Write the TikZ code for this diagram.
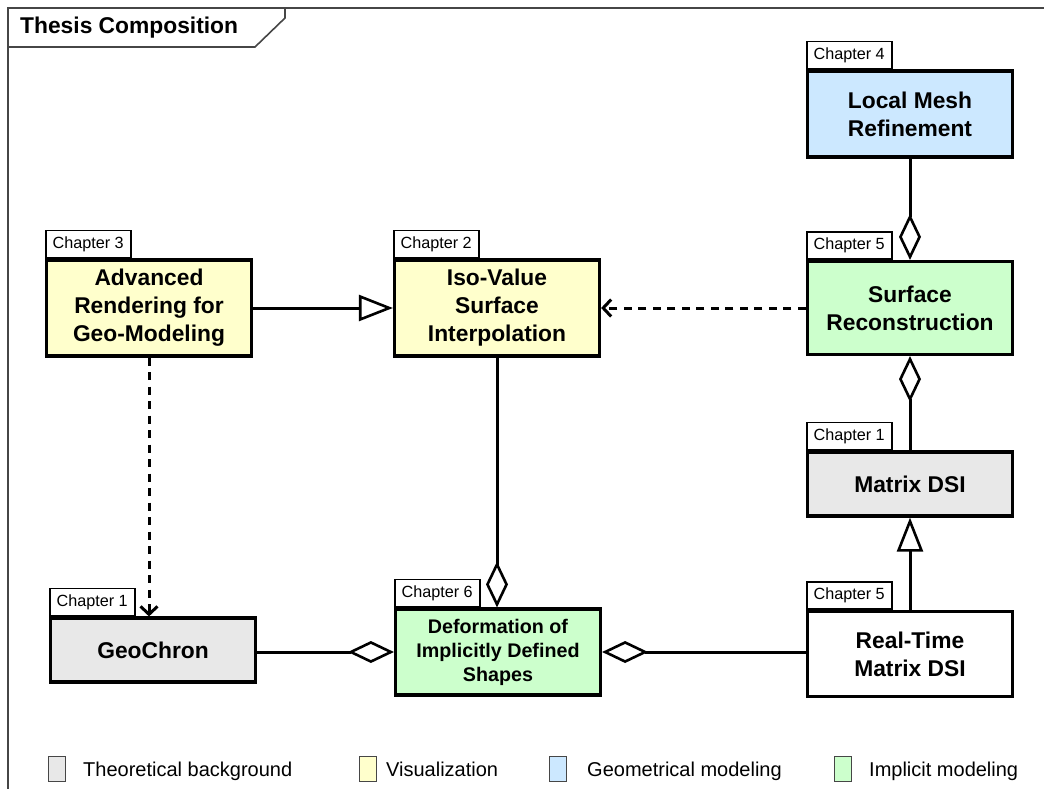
\documentclass[tikz,border=0pt]{standalone}
\usepackage{fontspec}
\setmainfont{Liberation Sans}
\usetikzlibrary{arrows.meta}
\definecolor{cgray}{RGB}{232,232,232}
\definecolor{cyel}{RGB}{255,255,204}
\definecolor{cblue}{RGB}{204,232,255}
\definecolor{cgreen}{RGB}{204,255,204}
\definecolor{frame}{RGB}{70,70,70}
\begin{document}
\begin{tikzpicture}[x=1pt,y=-1pt,
  box/.style={draw, line width=3.2pt, minimum width=205pt, inner sep=0pt, align=center,
    font=\fontsize{22.8}{28}\selectfont\bfseries},
  tabbox/.style={draw, line width=1.6pt, fill=white, minimum width=85pt, minimum height=27pt,
    inner sep=0pt, anchor=south west, font=\fontsize{16.2}{18}\selectfont},
  conn/.style={line width=3pt},
  gen/.style={conn, -{Triangle[open, length=34pt, width=26pt, line width=2.6pt]}},
  agg/.style={conn, -{Diamond[open, length=46pt, width=22pt, line width=2.6pt]}},
  dep/.style={conn, dash pattern=on 8pt off 6.5pt, -{Straight Barb[length=8pt, width=17pt, line width=3pt]}},
  legsq/.style={draw=frame, line width=1.6pt, minimum width=17pt, minimum height=25pt, inner sep=0pt},
  legtxt/.style={anchor=base west, inner sep=0pt, font=\fontsize{20}{24}\selectfont}
]
\useasboundingbox (0,0) rectangle (1044,789);
\fill[white] (0,0) rectangle (1044,789);

% frame
\draw[frame, line width=1.6pt] (1044,8) -- (8,8) -- (8,789);
\draw[frame, line width=1.6pt] (285,8) -- (285,18) -- (255,47) -- (8,47);
\node[anchor=west, inner sep=0pt, font=\fontsize{22.8}{28}\selectfont\bfseries] (title) at (20,28) {Thesis Composition};

% boxes
\node[box, fill=cblue, minimum height=86pt] (lmr) at (910,114) {Local Mesh\\Refinement};
\node[box, fill=cgreen, minimum height=93pt] (src) at (910,308) {Surface\\Reconstruction};
\node[box, fill=cyel, minimum height=96pt] (iso) at (497,308) {Iso-Value\\Surface\\Interpolation};
\node[box, fill=cyel, minimum height=96pt] (adv) at (149,308) {Advanced\\Rendering for\\Geo-Modeling};
\node[box, fill=cgray, minimum height=64pt] (mdsi) at (910,484) {Matrix DSI};
\node[box, fill=cgray, minimum height=64pt] (geo) at (153,650) {GeoChron};
\node[box, fill=cgreen, minimum height=86pt, font=\fontsize{19.7}{24}\selectfont\bfseries] (def) at (498,652) {Deformation of\\Implicitly Defined\\Shapes};
\node[box, fill=white, minimum height=85pt] (rtm) at (910,654) {Real-Time\\Matrix DSI};

% chapter tabs
\node[tabbox] (t4) at (lmr.north west) {Chapter 4};
\node[tabbox] (t5a) at (src.north west) {Chapter 5};
\node[tabbox] (t2) at (iso.north west) {Chapter 2};
\node[tabbox] (t3) at (adv.north west) {Chapter 3};
\node[tabbox] (t1a) at (mdsi.north west) {Chapter 1};
\node[tabbox] (t1b) at (geo.north west) {Chapter 1};
\node[tabbox] (t6) at (def.north west) {Chapter 6};
\node[tabbox] (t5b) at (rtm.north west) {Chapter 5};

% connectors
\draw[gen] (adv) -- (iso);
\draw[gen] (rtm) -- (mdsi);
\draw[agg] (lmr) -- (src);
\draw[agg] (mdsi) -- (src);
\draw[agg] (iso) -- (iso.south |- def.north);
\draw[agg] (geo.east |- def.west) -- (def.west);
\draw[agg] (rtm.west |- def.east) -- (def.east);
\draw[dep] (src) -- (iso);
\draw[dep] (adv) -- (adv.south |- geo.north);

% legend
\node[legsq, fill=cgray] (l1) at (57,769) {};
\node[legtxt] (lt1) at (83,776) {Theoretical background};
\node[legsq, fill=cyel] (l2) at (368,769) {};
\node[legtxt] (lt2) at (386,776) {Visualization};
\node[legsq, fill=cblue] (l3) at (558,769) {};
\node[legtxt] (lt3) at (587,776) {Geometrical modeling};
\node[legsq, fill=cgreen] (l4) at (843,769) {};
\node[legtxt] (lt4) at (869,776) {Implicit modeling};
\end{tikzpicture}
\end{document}
